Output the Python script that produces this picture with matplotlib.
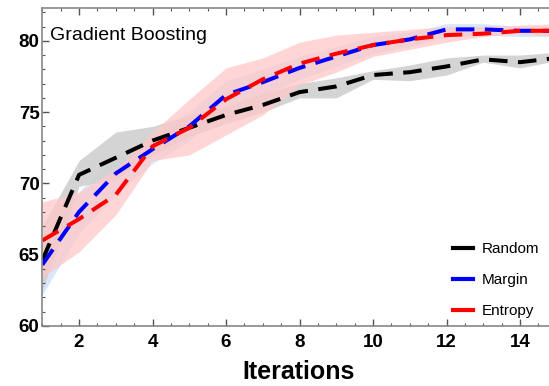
import matplotlib
matplotlib.use('Agg')
import matplotlib.pyplot as plt
from matplotlib.ticker import MultipleLocator
from matplotlib.lines import Line2D

plt.rcParams['font.family'] = ['Liberation Sans', 'DejaVu Sans']

# data
iters = [1, 2, 3, 4, 5, 6, 7, 8, 9, 10, 11, 12, 13, 14, 15]

random_mean = [64.6, 70.6, 71.8, 73.0, 73.9, 74.8, 75.5, 76.4, 76.8, 77.6, 77.8, 78.2, 78.7, 78.5, 78.8]
random_lo = [62.5, 69.8, 70.3, 72.0, 73.3, 74.2, 75.0, 76.0, 76.0, 77.3, 77.2, 77.6, 78.5, 78.1, 78.6]
random_hi = [67.0, 71.6, 73.6, 74.0, 74.8, 75.4, 76.3, 77.0, 77.4, 77.9, 78.3, 78.8, 79.0, 79.0, 79.2]

margin_mean = [64.3, 68.0, 70.7, 72.4, 74.0, 76.2, 77.1, 78.1, 78.9, 79.7, 80.1, 80.8, 80.8, 80.7, 80.7]
margin_lo = [62.2, 66.5, 69.2, 71.4, 73.0, 75.2, 76.2, 77.3, 78.2, 79.1, 79.6, 80.3, 80.4, 80.3, 80.3]
margin_hi = [66.2, 69.4, 72.0, 73.4, 75.0, 77.2, 78.0, 78.9, 79.6, 80.3, 80.6, 81.2, 81.2, 81.0, 81.0]

entropy_mean = [66.0, 67.5, 69.2, 72.6, 73.9, 75.9, 77.3, 78.4, 79.1, 79.7, 80.1, 80.4, 80.5, 80.7, 80.7]
entropy_lo = [63.4, 65.2, 67.8, 71.6, 72.0, 73.4, 74.8, 76.9, 77.8, 78.9, 79.4, 79.9, 80.3, 80.5, 80.3]
entropy_hi = [68.7, 69.4, 71.0, 73.6, 75.9, 78.1, 78.8, 79.9, 80.4, 80.6, 80.8, 81.0, 81.0, 81.1, 81.2]

labels = ['Random', 'Margin', 'Entropy']
colors = ['black', 'blue', 'red']

fig = plt.figure(figsize=(5.49, 3.86), dpi=100)
# x=15 sits just past the right edge of the image, as in the reference
ax = fig.add_axes([42.3 / 549, 1 - 326 / 386, (556.8 - 42.3) / 549, (326 - 8) / 386])

ax.fill_between(iters, margin_lo, margin_hi, color='#d6e8fa', lw=0)
ax.fill_between(iters, random_lo, random_hi, color='#d0d0d0', lw=0, alpha=0.9)
ax.fill_between(iters, entropy_lo, entropy_hi, color='#ffc8c8', lw=0, alpha=0.75)

dash = (4.6, 2.6)
ax.plot(iters, random_mean, color='black', lw=2.9, dashes=dash)
ax.plot(iters, margin_mean, color='blue', lw=2.9, dashes=dash)
ax.plot(iters, entropy_mean, color='red', lw=2.9, dashes=dash)

ax.set_xlim(1, 15)
ax.set_ylim(60, 82.3)
ax.xaxis.set_major_locator(MultipleLocator(2))
ax.xaxis.set_minor_locator(MultipleLocator(0.5))
ax.yaxis.set_major_locator(MultipleLocator(5))
ax.yaxis.set_minor_locator(MultipleLocator(1))
ax.tick_params(which='both', direction='in', top=True, right=False, color='#555555')
ax.tick_params(which='major', length=5, width=1)
ax.tick_params(which='minor', length=2.5, width=0.8)
ax.tick_params(axis='x', which='major', pad=6)
ax.tick_params(axis='y', which='major', pad=2)
for lab in ax.get_xticklabels() + ax.get_yticklabels():
    lab.set_fontsize(13.5)
    lab.set_fontweight('bold')
for s in ['left', 'bottom', 'top']:
    ax.spines[s].set_color('#888888')
    ax.spines[s].set_linewidth(1.2)
ax.spines['right'].set_visible(False)

fig.text(299 / 549, 1 - 372 / 386, 'Iterations', fontsize=18, fontweight='bold',
         ha='center', va='center')
fig.text(50 / 549, 1 - 35 / 386, 'Gradient Boosting', fontsize=14,
         ha='left', va='center')

handles = [Line2D([0], [0], color=c, lw=3) for c in colors]
leg = fig.legend(handles, labels, loc='lower left', bbox_to_anchor=(453 / 549, 1 - 318 / 386),
                 frameon=False, fontsize=11, handlelength=1.3, labelspacing=1.1,
                 handletextpad=0.6, borderpad=0, borderaxespad=0)

fig.savefig('out.png', dpi=100)
